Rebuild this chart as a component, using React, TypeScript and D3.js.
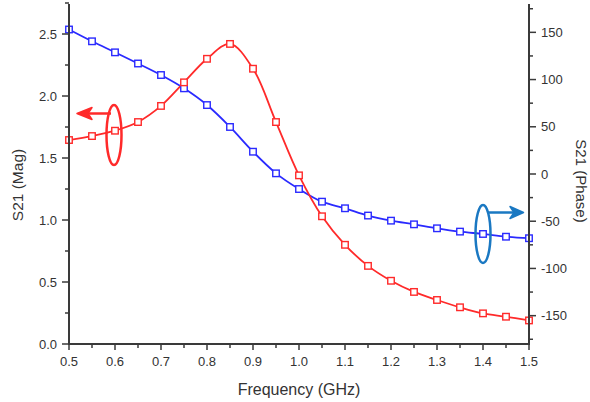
import React from "react";
import * as d3 from "d3";

const freq = [0.5,0.55,0.6,0.65,0.7,0.75,0.8,0.85,0.9,0.95,1.0,1.05,1.1,1.15,1.2,1.25,1.3,1.35,1.4,1.45,1.5];
const mag = [1.645,1.677,1.72,1.79,1.92,2.11,2.30,2.42,2.22,1.79,1.36,1.03,0.80,0.63,0.51,0.42,0.355,0.296,0.247,0.22,0.19];
const phase = [153,140.5,128.8,117,104.8,90.7,73,49.8,23.6,0.7,-15.9,-29.3,-36.3,-44,-49.4,-53.3,-57.5,-61,-63.5,-66.4,-68];
const xTicks = [0.5,0.6,0.7,0.8,0.9,1.0,1.1,1.2,1.3,1.4,1.5];
const xMinor = [0.55,0.65,0.75,0.85,0.95,1.05,1.15,1.25,1.35,1.45];
const magTicks = [0,0.5,1.0,1.5,2.0,2.5];
const magMinor = [0.25,0.75,1.25,1.75,2.25,2.75];
const phaseTicks = [-150,-100,-50,0,50,100,150];
const phaseMinor = [-175,-125,-75,-25,25,75,125,175];

const W = 590, H = 402;
const L = 69, R = 529, T = 4, B = 344;
const RED = "#ff2a2a";
const BLUE = "#2a2aff";
const ANN_BLUE = "#1a78c2";
const AX = "#3a3a3a";
const TXT = "#333";
const FONT = "'Liberation Sans', Arial, sans-serif";

export default function App() {
  const x = d3.scaleLinear().domain([0.5, 1.5]).range([L, R]);
  const yL = d3.scaleLinear().domain([0, 2.742]).range([B, T]);
  const yR = d3.scaleLinear().domain([-180, 180]).range([B, T]);

  const redLine = d3.line<number>().x((_, i) => x(freq[i])).y((d) => yL(d)).curve(d3.curveCatmullRom.alpha(0.5));
  const blueLine = d3.line<number>().x((_, i) => x(freq[i])).y((d) => yR(d)).curve(d3.curveCatmullRom.alpha(0.5));

  const sq = 6.5;
  return (
    <svg width={W} height={H} style={{ position: "absolute", left: 0, top: 0, background: "#fff" }} fontFamily={FONT}>
      <rect x={0} y={0} width={W} height={H} fill="#fff" />
      {/* series */}
      <path d={blueLine(phase) || ""} fill="none" stroke={BLUE} strokeWidth={1.8} />
      <path d={redLine(mag) || ""} fill="none" stroke={RED} strokeWidth={1.8} />
      {phase.map((v, i) => (
        <rect key={"b" + i} x={x(freq[i]) - sq / 2} y={yR(v) - sq / 2} width={sq} height={sq} fill="#fff" stroke={BLUE} strokeWidth={1.4} />
      ))}
      {mag.map((v, i) => (
        <rect key={"r" + i} x={x(freq[i]) - sq / 2} y={yL(v) - sq / 2} width={sq} height={sq} fill="#fff" stroke={RED} strokeWidth={1.4} />
      ))}

      {/* axes */}
      <line x1={L} x2={L} y1={T} y2={B + 1} stroke={AX} strokeWidth={2} />
      <line x1={R} x2={R} y1={T} y2={B + 1} stroke={AX} strokeWidth={2} />
      <line x1={L - 1} x2={R + 1} y1={B} y2={B} stroke={AX} strokeWidth={2} />

      {xTicks.map((t) => (
        <g key={"xt" + t}>
          <line x1={x(t)} x2={x(t)} y1={B} y2={B + 6} stroke={AX} strokeWidth={1.5} />
          <text x={x(t)} y={366} textAnchor="middle" fontSize={13} fill={TXT}>{t.toFixed(1)}</text>
        </g>
      ))}
      {xMinor.map((t) => (
        <line key={"xm" + t} x1={x(t)} x2={x(t)} y1={B} y2={B + 4} stroke={AX} strokeWidth={1.5} />
      ))}

      {magTicks.map((t) => (
        <g key={"ml" + t}>
          <line x1={L - 7} x2={L} y1={yL(t)} y2={yL(t)} stroke={AX} strokeWidth={1.5} />
          <text x={L - 12} y={yL(t) + 4.5} textAnchor="end" fontSize={13} fill={TXT}>{t.toFixed(1)}</text>
        </g>
      ))}
      {magMinor.map((t) => (
        <line key={"mm" + t} x1={L - 4} x2={L} y1={yL(t)} y2={yL(t)} stroke={AX} strokeWidth={1.5} />
      ))}

      {phaseTicks.map((t) => (
        <g key={"pt" + t}>
          <line x1={R} x2={R + 7} y1={yR(t)} y2={yR(t)} stroke={AX} strokeWidth={1.5} />
          <text x={R + 12} y={yR(t) + 4.5} textAnchor="start" fontSize={13} fill={TXT}>{String(t)}</text>
        </g>
      ))}
      {phaseMinor.map((t) => (
        <line key={"pm" + t} x1={R} x2={R + 4} y1={yR(t)} y2={yR(t)} stroke={AX} strokeWidth={1.5} />
      ))}

      {/* titles */}
      <text x={(L + R) / 2} y={395} textAnchor="middle" fontSize={16} fill={TXT}>Frequency (GHz)</text>
      <text transform={`translate(23,185) rotate(-90)`} textAnchor="middle" fontSize={15.5} fill={TXT}>S21 (Mag)</text>
      <text transform={`translate(576,181) rotate(90)`} textAnchor="middle" fontSize={15} fill={TXT}>S21 (Phase)</text>

      {/* annotations */}
      <ellipse cx={x(0.6) - 1} cy={135} rx={7.5} ry={30} fill="none" stroke={RED} strokeWidth={2.5} />
      <line x1={x(0.6) - 4} x2={80} y1={113.5} y2={113.5} stroke={RED} strokeWidth={2.5} />
      <path d="M77,113.5 L92,107.5 L88,113.5 L92,119.5 Z" fill={RED} stroke={RED} strokeWidth={1.5} strokeLinejoin="round" />

      <ellipse cx={x(1.4)} cy={234} rx={7.5} ry={29} fill="none" stroke={ANN_BLUE} strokeWidth={2.5} />
      <line x1={x(1.4) + 5} x2={520} y1={212.5} y2={212.5} stroke={ANN_BLUE} strokeWidth={2.5} />
      <path d="M523.5,212.5 L510,206.5 L514,212.5 L510,218.5 Z" fill={ANN_BLUE} stroke={ANN_BLUE} strokeWidth={1.5} strokeLinejoin="round" />
    </svg>
  );
}
